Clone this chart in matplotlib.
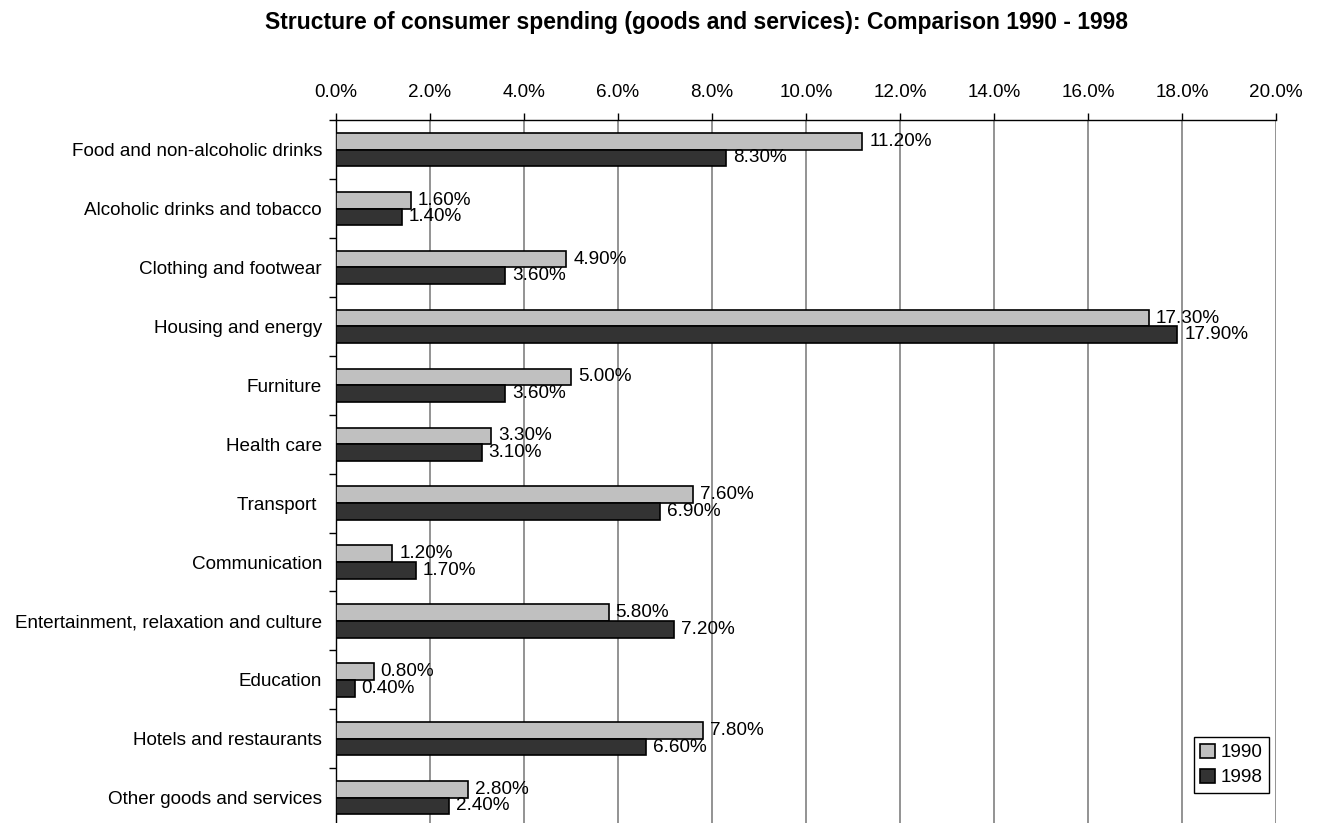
import matplotlib
matplotlib.use("Agg")
import matplotlib.pyplot as plt
import numpy as np

plt.rcParams['font.family'] = ['Liberation Sans', 'DejaVu Sans']

# data (percent of consumer spending)
categories = [
    'Food and non-alcoholic drinks',
    'Alcoholic drinks and tobacco',
    'Clothing and footwear',
    'Housing and energy',
    'Furniture',
    'Health care',
    'Transport ',
    'Communication',
    'Entertainment, relaxation and culture',
    'Education',
    'Hotels and restaurants',
    'Other goods and services',
]
share_1990 = [11.2, 1.6, 4.9, 17.3, 5.0, 3.3, 7.6, 1.2, 5.8, 0.8, 7.8, 2.8]
share_1998 = [8.3, 1.4, 3.6, 17.9, 3.6, 3.1, 6.9, 1.7, 7.2, 0.4, 6.6, 2.4]
series_names = ['1990', '1998']
x_ticks = np.arange(0, 21, 2)

c_light = '#C0C0C0'
c_dark = '#333333'
fs = 13.6

fig = plt.figure(figsize=(13.19, 8.23), dpi=100)
# axes runs past the bottom edge, like the cropped original
ax = fig.add_axes([0.2547, -0.005, 0.7127, 0.859])

y = np.arange(len(categories))
h = 0.283
b1 = ax.barh(y - h / 2, share_1990, height=h, color=c_light,
             edgecolor='black', linewidth=1.2, label=series_names[0], zorder=3)
b2 = ax.barh(y + h / 2, share_1998, height=h, color=c_dark,
             edgecolor='black', linewidth=1.2, label=series_names[1], zorder=3)

for bars, vals in [(b1, share_1990), (b2, share_1998)]:
    for bar, v in zip(bars, vals):
        ax.annotate(f'{v:.2f}%', (bar.get_width(), bar.get_y() + bar.get_height() / 2),
                    xytext=(5, 0), textcoords='offset points',
                    ha='left', va='center', fontsize=fs, zorder=4)

ax.set_xlim(0, 20)
ax.set_ylim(len(categories) - 0.5, -0.5)
ax.xaxis.tick_top()
ax.set_xticks(x_ticks)
ax.set_xticklabels([f'{t:.1f}%' for t in x_ticks], fontsize=fs)
ax.tick_params(axis='x', direction='out', length=5, width=1, pad=8.5)
ax.grid(True, axis='x', color='#808080', linewidth=1.2, zorder=0)

# category labels centred, tick marks on band boundaries
ax.set_yticks(y)
ax.set_yticklabels(categories, fontsize=fs)
ax.tick_params(axis='y', which='major', length=0, pad=10)
ax.set_yticks(np.arange(len(categories) + 1) - 0.5, minor=True)
ax.tick_params(axis='y', which='minor', direction='out', length=5, width=1)

for side in ['right', 'bottom']:
    ax.spines[side].set_visible(False)
ax.spines['top'].set_linewidth(1)
ax.spines['left'].set_linewidth(1)

leg = ax.legend(loc='lower right', bbox_to_anchor=(0.962, 0.0365),
                bbox_transform=fig.transFigure, borderaxespad=0,
                fancybox=False, edgecolor='black', framealpha=1,
                fontsize=fs, handlelength=0.75, handleheight=0.75,
                handletextpad=0.3, labelspacing=0.4, borderpad=0.35)
leg.get_frame().set_linewidth(1)

fig.text(0.5277, 0.973, 'Structure of consumer spending (goods and services): Comparison 1990 - 1998',
         ha='center', va='center', fontsize=16.5, fontweight='bold')

fig.savefig('out.png', dpi=100, facecolor='white')
